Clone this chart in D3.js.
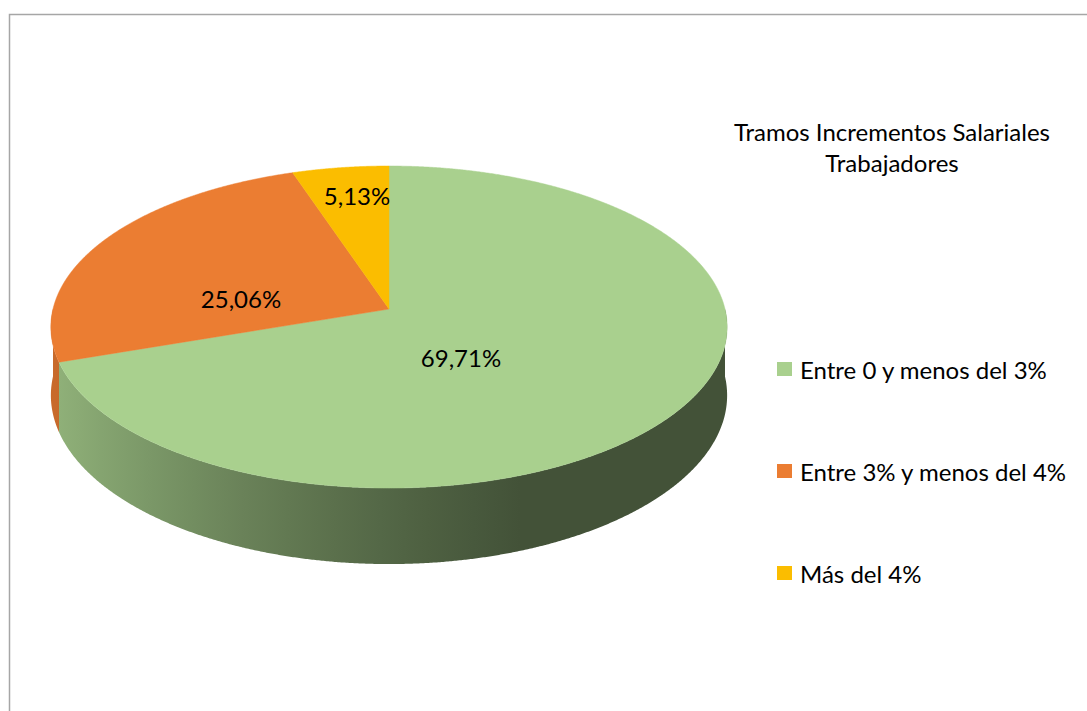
<!DOCTYPE html>
<html><head><meta charset="utf-8">
<script src="https://cdn.jsdelivr.net/npm/d3@7/dist/d3.min.js"></script>
<style>
html,body{margin:0;padding:0;background:#fff;}
svg{display:block;}
text{font-family:Lato,"Open Sans",sans-serif;fill:#000;}
</style></head>
<body>
<svg id="chart" width="1087" height="711"></svg>
<script>
// ---- data ----
const categories = ["Entre 0 y menos del 3%", "Entre 3% y menos del 4%", "Más del 4%"];
const values = [69.71, 25.06, 5.13];
const valueLabels = ["69,71%", "25,06%", "5,13%"];
const colors = ["#A9D08E", "#EB7D32", "#FBBD00"];
const titleLines = ["Tramos Incrementos Salariales", "Trabajadores"];

const svg = d3.select("#chart");
const defs = svg.append("defs");

// chart border
svg.append("path")
  .attr("d", "M9.5,711 L9.5,14.5 L1087,14.5")
  .attr("fill", "none").attr("stroke", "#a6a6a6").attr("stroke-width", 1.5);

// ---- 3D projection (perspective pie) ----
const cx = 389, cy = 309, A = 336, B = 159, p = 0.112, D = 67.5;
function proj(a, bottom) {
  const x3 = Math.sin(a), y3 = Math.cos(a);
  const w = 1 + p * y3;
  return [cx + A * x3 / w, cy - B * y3 / w + (bottom ? D / w : 0)];
}

const pie = d3.pie().sort(null).value(d => d)(values);
const step = Math.PI / 720;

// side shading gradients (by screen x)
const gx0 = 55, gx1 = 520;
const shadeScale = d3.scaleLinear().domain([0, 1]).range([0.45, 2.6]);
colors.forEach((c, i) => {
  const g = defs.append("linearGradient").attr("id", "side" + i)
    .attr("gradientUnits", "userSpaceOnUse")
    .attr("x1", gx0).attr("y1", 0).attr("x2", gx1).attr("y2", 0);
  d3.range(0, 1.0001, 0.1).forEach(t => {
    g.append("stop").attr("offset", t).attr("stop-color", d3.color(c).darker(shadeScale(t)).formatHex());
  });
});

// side walls (front-facing part only: angles between PI/2 and 3PI/2)
const sideG = svg.append("g");
pie.forEach((s, i) => {
  const a0 = Math.max(s.startAngle, Math.PI / 2), a1 = Math.min(s.endAngle, 3 * Math.PI / 2);
  if (a1 <= a0) return;
  const topPts = [], botPts = [];
  for (let a = a0; a < a1; a += step) { topPts.push(proj(a, false)); botPts.push(proj(a, true)); }
  topPts.push(proj(a1, false)); botPts.push(proj(a1, true));
  const pts = topPts.concat(botPts.reverse());
  sideG.append("path")
    .attr("d", d3.line()(pts) + "Z")
    .attr("fill", "url(#side" + i + ")");
});

// top faces
const topG = svg.append("g");
pie.forEach((s, i) => {
  const pts = [[cx, cy]];
  for (let a = s.startAngle; a < s.endAngle; a += step) pts.push(proj(a, false));
  pts.push(proj(s.endAngle, false));
  topG.append("path")
    .attr("d", d3.line()(pts) + "Z")
    .attr("fill", colors[i]).attr("stroke", colors[i]).attr("stroke-width", 0.5);
});

// data labels
const labelPos = [[461, 357], [241, 298], [357, 195]];
pie.forEach((s, i) => {
  svg.append("text")
    .attr("x", labelPos[i][0]).attr("y", labelPos[i][1])
    .attr("text-anchor", "middle").attr("dominant-baseline", "central")
    .attr("font-size", 24)
    .text(valueLabels[i]);
});

// title
titleLines.forEach((t, k) => {
  svg.append("text")
    .attr("x", 892).attr("y", 141 + k * 31)
    .attr("text-anchor", "middle")
    .attr("font-size", 24)
    .text(t);
});

// legend
const legendY = d3.scalePoint().domain(categories).range([369, 573]);
const lg = svg.append("g");
categories.forEach((c, i) => {
  const y = legendY(c);
  lg.append("rect").attr("x", 777).attr("y", y - 7).attr("width", 15).attr("height", 14).attr("fill", colors[i]);
  lg.append("text").attr("x", 800).attr("y", y).attr("dominant-baseline", "central")
    .attr("font-size", 24).text(c);
});
</script>
</body></html>
